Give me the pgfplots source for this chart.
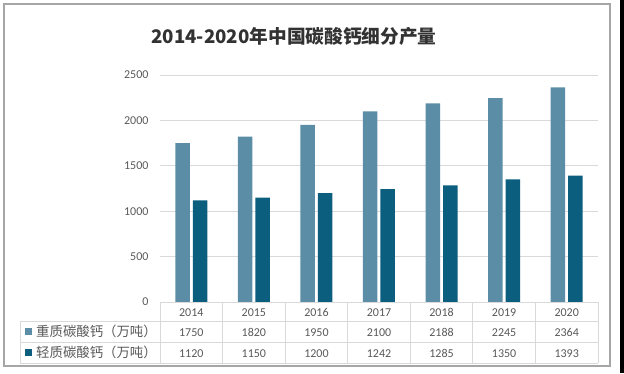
\documentclass[border=0pt]{standalone}
\usepackage{pgfplots}
\pgfplotsset{compat=1.18}
\usepackage{fontspec}
\setmainfont{Carlito}
\newfontfamily\cjk{Noto Sans CJK SC}
\definecolor{lightb}{RGB}{91,142,166}
\definecolor{darkb}{RGB}{12,94,126}
\definecolor{gridc}{RGB}{217,217,217}
\definecolor{txt}{RGB}{89,89,89}
\definecolor{framec}{RGB}{166,166,166}
\definecolor{titlec}{RGB}{50,50,50}
\begin{document}
\begin{tikzpicture}[x=1pt,y=1pt]
\useasboundingbox (0,0) rectangle (624,373);
\fill[white] (0,0) rectangle (624,373);
\fill[black] (620,0) rectangle (624,373);
\draw[framec, line width=1.2pt] (4,7) rectangle (610,369);
\node[font=\cjk\bfseries\fontsize{18.7}{22}\selectfont, text=titlec] at (294,337) {2014-2020年中国碳酸钙细分产量};
\begin{axis}[
  at={(160pt,71pt)}, anchor=south west,
  scale only axis, width=438pt, height=227pt,
  xmin=-0.5, xmax=6.5, ymin=0, ymax=2500,
  ytick={0,500,1000,1500,2000,2500}, xtick=\empty,
  ymajorgrids, grid style={gridc, line width=0.8pt},
  axis line style={draw=none}, major tick length=0pt,
  /pgf/number format/assume math mode=true,
  /pgf/number format/1000 sep={},
  yticklabel style={text=txt, font=\fontsize{12}{14}\selectfont, anchor=east, xshift=-8pt},
  ybar=3pt, bar width=14.5pt,
]
\addplot[fill=lightb, draw=none] coordinates {(0,1750) (1,1820) (2,1950) (3,2100) (4,2188) (5,2245) (6,2364)};
\addplot[fill=darkb, draw=none] coordinates {(0,1120) (1,1150) (2,1200) (3,1242) (4,1285) (5,1350) (6,1393)};
\end{axis}
\def\cw{62.571}
\foreach \k in {0,...,7} \draw[gridc, line width=0.8pt] ({160+\k*\cw},71) -- ({160+\k*\cw},10);
\draw[gridc, line width=0.8pt] (20,52) -- (20,10);
\draw[gridc, line width=0.8pt] (160,71) -- (598,71);
\foreach \yy in {52,31,10} \draw[gridc, line width=0.8pt] (20,\yy) -- (598,\yy);
\tikzset{cell/.style={text=txt, font=\fontsize{12}{14}\selectfont, anchor=base, inner sep=0pt}}
\foreach \v [count=\i from 0] in {2014,2015,2016,2017,2018,2019,2020}
  \node[cell] at ({160+(\i+0.5)*\cw},56.8) {\v};
\foreach \v [count=\i from 0] in {1750,1820,1950,2100,2188,2245,2364}
  \node[cell] at ({160+(\i+0.5)*\cw},36.8) {\v};
\foreach \v [count=\i from 0] in {1120,1150,1200,1242,1285,1350,1393}
  \node[cell] at ({160+(\i+0.5)*\cw},15.8) {\v};
\fill[lightb] (25,38) rectangle (32,45);
\node[anchor=west, inner sep=0pt, text=txt, font=\cjk\fontsize{13.4}{15}\selectfont] at (36,41.5) {重质碳酸钙（万吨）};
\fill[darkb] (25,17) rectangle (32,24);
\node[anchor=west, inner sep=0pt, text=txt, font=\cjk\fontsize{13.4}{15}\selectfont] at (36,20.5) {轻质碳酸钙（万吨）};
\end{tikzpicture}
\end{document}
